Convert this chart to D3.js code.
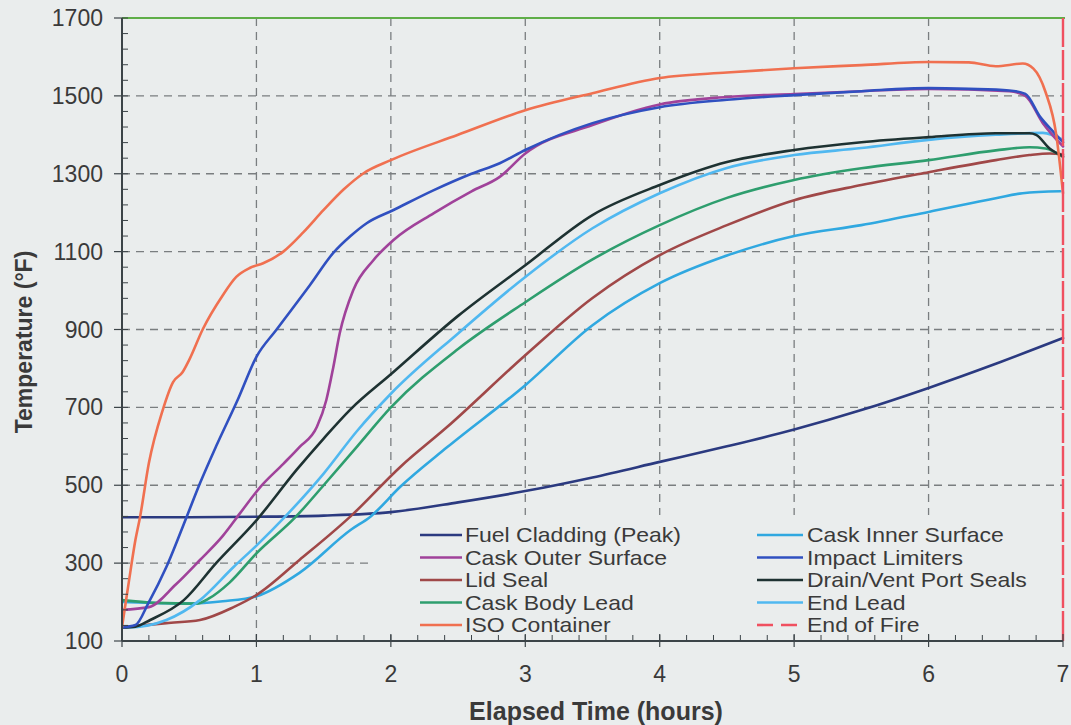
<!DOCTYPE html>
<html>
<head>
<meta charset="utf-8">
<script src="https://cdn.jsdelivr.net/npm/d3@7"></script>
<style>
  html, body { margin: 0; padding: 0; background: #eaeded; }
  svg { display: block; }
</style>
</head>
<body>
<div id="chart"></div>
<script>
// ---------------- DATA ----------------
const xTicks = [0, 1, 2, 3, 4, 5, 6, 7];
const yTicks = [100, 300, 500, 700, 900, 1100, 1300, 1500, 1700];
const xLabel = "Elapsed Time (hours)";
const yLabel = "Temperature (°F)";

const fuelCladding = [[0,418],[0.5,418],[1,419],[1.5,422],[2,431],[2.5,456],[3,485],[3.5,520],[4,560],[4.5,600],[5,643],[5.5,693],[6,750],[6.5,812],[7,878]];
const caskOuterSurface = [[0,180],[0.2,187],[0.4,245],[0.58,308],[0.75,370],[0.88,429],[1.03,496],[1.2,555],[1.32,598],[1.45,650],[1.52,719],[1.57,800],[1.62,891],[1.72,1001],[1.87,1078],[2.02,1130],[2.32,1199],[2.6,1255],[2.81,1292],[3,1352],[3.5,1425],[4,1478],[4.5,1497],[5,1505],[5.5,1512],[6,1518],[6.6,1512],[6.72,1500],[6.85,1430],[7,1370]];
const lidSeal = [[0,135],[0.33,146],[0.58,154],[0.83,187],[1,218],[1.32,308],[1.7,420],[2.07,547],[2.42,650],[3,834],[3.5,981],[4,1091],[4.5,1168],[5,1232],[5.5,1271],[6,1304],[6.5,1335],[6.75,1348],[6.9,1352],[7,1350]];
const caskBodyLead = [[0,205],[0.25,198],[0.55,196],[0.65,210],[0.8,250],[1,325],[1.29,418],[1.5,500],[1.75,600],[2,700],[2.5,850],[3,970],[3.5,1080],[4,1168],[4.5,1238],[5,1284],[5.5,1314],[6,1335],[6.5,1360],[6.75,1368],[6.87,1365],[7,1343]];
const isoContainer = [[0,136],[0.05,250],[0.1,360],[0.134,418],[0.2,557],[0.3,690],[0.38,765],[0.45,790],[0.5,822],[0.6,900],[0.75,988],[0.85,1035],[0.95,1058],[1.05,1070],[1.2,1100],[1.35,1150],[1.5,1207],[1.65,1260],[1.8,1302],[2,1335],[2.5,1400],[3,1463],[3.5,1507],[4,1546],[4.5,1560],[5,1571],[5.5,1579],[6,1587],[6.3,1586],[6.5,1576],[6.7,1583],[6.78,1570],[6.87,1510],[6.95,1400],[7,1250]];
const caskInnerSurface = [[0,200],[0.3,197],[0.5,196],[0.75,202],[1,215],[1.32,275],[1.7,385],[1.85,420],[2.07,496],[2.42,598],[3,757],[3.5,911],[4,1019],[4.5,1090],[5,1140],[5.5,1168],[6,1202],[6.5,1237],[6.7,1250],[6.98,1255]];
const impactLimiters = [[0,135],[0.1,141],[0.2,200],[0.33,290],[0.48,418],[0.58,505],[0.7,600],[0.86,719],[1,830],[1.15,900],[1.4,1015],[1.57,1096],[1.7,1140],[1.82,1173],[2.02,1207],[2.32,1258],[2.6,1300],[2.81,1327],[3,1361],[3.5,1430],[4,1471],[4.5,1490],[5,1502],[5.5,1512],[6,1520],[6.3,1518],[6.6,1514],[6.72,1505],[6.83,1446],[6.93,1407],[7,1381]];
const drainVentSeals = [[0,135],[0.1,137],[0.21,154],[0.46,205],[0.7,300],[1,410],[1.3,540],[1.5,620],[1.7,695],[2,785],[2.5,935],[3,1065],[3.5,1194],[4,1271],[4.5,1330],[5,1361],[5.5,1381],[6,1394],[6.5,1404],[6.75,1404],[6.8,1400],[6.9,1365],[7,1345]];
const endLead = [[0,135],[0.05,135],[0.33,154],[0.58,205],[0.83,290],[1,345],[1.21,418],[1.5,530],[1.75,640],[2,735],[2.5,890],[3,1035],[3.5,1160],[4,1250],[4.5,1315],[5,1348],[5.5,1366],[6,1387],[6.5,1400],[6.85,1405],[7,1387]];
const endOfFire = [[7,100],[7,1700]];

const seriesNames = ["Fuel Cladding (Peak)","Cask Outer Surface","Lid Seal","Cask Body Lead","ISO Container",
                     "Cask Inner Surface","Impact Limiters","Drain/Vent Port Seals","End Lead","End of Fire"];
const seriesData = [fuelCladding, caskOuterSurface, lidSeal, caskBodyLead, isoContainer,
                    caskInnerSurface, impactLimiters, drainVentSeals, endLead, endOfFire];
const seriesColors = ["#2b3a80","#a0429a","#a04848","#2e9e6e","#f07050",
                      "#30a8e0","#3050c0","#1e3232","#50b8f0","#f05060"];
// drawing order (indices)
const drawOrder = [0,5,2,3,8,7,1,6,4,9];

// ---------------- LAYOUT ----------------
const W = 1071, H = 725;
const x0 = 122, x1 = 1063, y0 = 641, y1 = 18;
const bg = "#eaeded";
const textColor = "#3a3a3a";
const font = "'Liberation Sans', Arial, sans-serif";

const svg = d3.select("#chart").append("svg").attr("width", W).attr("height", H);
svg.append("rect").attr("width", W).attr("height", H).attr("fill", bg);

const x = d3.scaleLinear().domain([0, 7]).range([x0, x1]);
const y = d3.scaleLinear().domain([100, 1700]).range([y0, y1]);

// grid
const grid = svg.append("g");
grid.selectAll("line.vg").data(xTicks.filter(d => d > 0 && d < 7)).join("line")
  .attr("x1", d => x(d)).attr("x2", d => x(d)).attr("y1", y1).attr("y2", y0)
  .attr("stroke", "#7a7e80").attr("stroke-width", 1.3).attr("stroke-dasharray", "8,6");
grid.selectAll("line.hg").data(yTicks.filter(d => d > 100 && d < 1700)).join("line")
  .attr("x1", x0).attr("x2", x1).attr("y1", d => y(d)).attr("y2", d => y(d))
  .attr("stroke", "#7a7e80").attr("stroke-width", 1.3).attr("stroke-dasharray", "8,6");

// legend background box (opaque, hides grid like the original), under the curves
svg.append("rect").attr("x", 368).attr("y", 515).attr("width", x1 - 368 - 1).attr("height", y0 - 515 - 1)
  .attr("fill", bg);

// clip
svg.append("clipPath").attr("id", "clip").append("rect")
  .attr("x", x0).attr("y", y1 - 2).attr("width", x1 - x0 + 2).attr("height", y0 - y1 + 2);

const line = d3.line().x(d => x(d[0])).y(d => y(d[1])).curve(d3.curveMonotoneX);
const lines = svg.append("g").attr("clip-path", "url(#clip)");
drawOrder.forEach(i => {
  if (i === 9) return;
  lines.append("path").datum(seriesData[i])
    .attr("d", line).attr("fill", "none")
    .attr("stroke", seriesColors[i]).attr("stroke-width", 2.6)
    .attr("stroke-linejoin", "round").attr("stroke-linecap", "round");
});

// top border (green) at 1700
svg.append("line").attr("x1", x0).attr("x2", x1 + 2).attr("y1", y(1700)).attr("y2", y(1700))
  .attr("stroke", "#5fae48").attr("stroke-width", 2);

// end of fire vertical line
svg.append("path").datum(endOfFire)
  .attr("d", d3.line().x(d => x(d[0])).y(d => y(d[1])))
  .attr("stroke", seriesColors[9]).attr("stroke-width", 2.4).attr("fill", "none")
  .attr("stroke-dasharray", "30,3");

// axes
const axisColor = "#3c4448";
const yAxis = svg.append("g");
yAxis.append("line").attr("x1", x0).attr("x2", x0).attr("y1", y1).attr("y2", y0)
  .attr("stroke", axisColor).attr("stroke-width", 2);
const yMinor = d3.range(100, 1701, 40);
yAxis.selectAll("line.ym").data(yMinor).join("line")
  .attr("x1", x0).attr("x2", x0 + 6).attr("y1", d => y(d)).attr("y2", d => y(d))
  .attr("stroke", axisColor).attr("stroke-width", 1);
yAxis.selectAll("line.yM").data(yTicks).join("line")
  .attr("x1", x0 - 8).attr("x2", x0).attr("y1", d => y(d)).attr("y2", d => y(d))
  .attr("stroke", axisColor).attr("stroke-width", 1.2);
yAxis.selectAll("text").data(yTicks).join("text")
  .attr("x", 103).attr("y", d => y(d) + 8)
  .attr("text-anchor", "end").attr("font-family", font).attr("font-size", 23)
  .attr("fill", textColor).text(d => d);

const xAxis = svg.append("g");
xAxis.append("line").attr("x1", x0).attr("x2", x1).attr("y1", y0).attr("y2", y0)
  .attr("stroke", axisColor).attr("stroke-width", 2);
const xMinor = d3.range(0, 35).map(i => i * 0.2);
xAxis.selectAll("line.xm").data(xMinor).join("line")
  .attr("x1", d => x(d)).attr("x2", d => x(d)).attr("y1", y0).attr("y2", y0 - 6)
  .attr("stroke", axisColor).attr("stroke-width", 1);
xAxis.selectAll("line.xM").data(xTicks).join("line")
  .attr("x1", d => x(d)).attr("x2", d => x(d)).attr("y1", y0 - 7).attr("y2", y0 + 6)
  .attr("stroke", axisColor).attr("stroke-width", 1.2);
xAxis.selectAll("text").data(xTicks).join("text")
  .attr("x", d => x(d)).attr("y", 682)
  .attr("text-anchor", "middle").attr("font-family", font).attr("font-size", 23)
  .attr("fill", textColor).text(d => d);

// axis titles
svg.append("text").attr("x", 596).attr("y", 720).attr("text-anchor", "middle")
  .attr("font-family", font).attr("font-size", 25).attr("font-weight", "bold")
  .attr("fill", textColor).text(xLabel);
svg.append("text").attr("transform", "translate(32,342) rotate(-90)").attr("text-anchor", "middle")
  .attr("font-family", font).attr("font-size", 23).attr("font-weight", "bold")
  .attr("fill", textColor).text(yLabel);

// legend entries
const legend = svg.append("g");
const colX = [[420, 462, 465], [757, 803, 807]];
seriesNames.forEach((name, i) => {
  const col = i < 5 ? 0 : 1;
  const row = i % 5;
  const base = 542 + row * 22.5;
  const [lx1, lx2, tx] = colX[col];
  legend.append("line").attr("x1", lx1).attr("x2", lx2).attr("y1", base - 7).attr("y2", base - 7)
    .attr("stroke", seriesColors[i]).attr("stroke-width", 2.6)
    .attr("stroke-dasharray", i === 9 ? "16,8" : null);
  legend.append("text").attr("transform", `translate(${tx},${base}) scale(1.15,1)`)
    .attr("font-family", font).attr("font-size", 20).attr("fill", textColor).text(name);
});
</script>
</body>
</html>
